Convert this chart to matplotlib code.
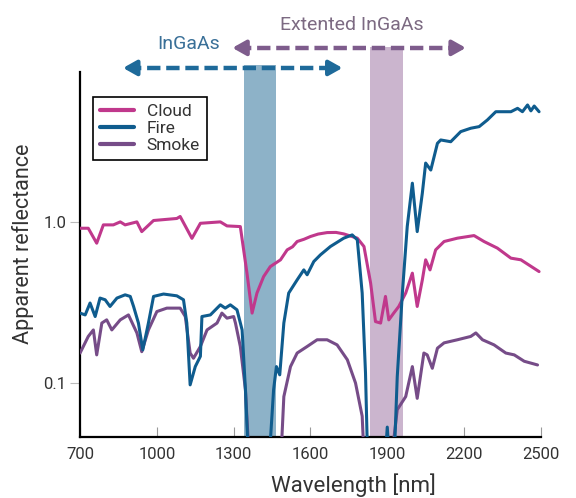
import matplotlib
matplotlib.use("Agg")
import matplotlib.pyplot as plt

plt.rcParams["font.family"] = ["Roboto", "DejaVu Sans"]

# Spectra (wavelength in nm, apparent reflectance)
cloud_nm = [700, 732, 765, 791, 830, 857, 876, 922, 941, 987, 1078, 1091, 1137, 1170,
            1248, 1274, 1326, 1352, 1372, 1391, 1417, 1443, 1483, 1509, 1530, 1548, 1575,
            1600, 1630, 1665, 1700, 1730, 1783, 1809, 1835, 1854, 1874, 1893, 1906, 1926,
            1945, 1972, 1998, 2017, 2037, 2050, 2067, 2089, 2122, 2174, 2239, 2278, 2330,
            2383, 2422, 2493]
cloud_r = [0.913, 0.913, 0.737, 0.958, 0.958, 1.00, 0.958, 1.00, 0.87, 1.02, 1.05, 1.08, 0.79, 0.98,
           1.00, 0.944, 0.935, 0.48, 0.271, 0.361, 0.457, 0.527, 0.581, 0.67, 0.70, 0.755, 0.78,
           0.811, 0.84, 0.858, 0.86, 0.842, 0.792, 0.703, 0.416, 0.240, 0.235, 0.344, 0.246, 0.272,
           0.298, 0.361, 0.48, 0.298, 0.436, 0.581, 0.503, 0.67, 0.755, 0.792, 0.822, 0.755, 0.687,
           0.595, 0.581, 0.491]

fire_nm = [700, 720, 739, 759, 778, 798, 817, 844, 876, 896, 909, 928, 945, 967, 987, 1026,
           1078, 1104, 1117, 1130, 1150, 1170, 1176, 1209, 1248, 1267, 1287, 1313, 1333, 1346,
           1359, 1437, 1456, 1467, 1480, 1496, 1515, 1548, 1574, 1587, 1613, 1639, 1678, 1730,
           1763, 1783, 1802, 1815, 1824, 1890, 1900, 1910, 1926, 1939, 1959, 1978, 1998, 2017,
           2037, 2050, 2070, 2096, 2109, 2148, 2187, 2226, 2259, 2291, 2324, 2383, 2409, 2428,
           2448, 2461, 2474, 2493]
fire_r = [0.271, 0.264, 0.313, 0.258, 0.336, 0.328, 0.298, 0.336, 0.352, 0.344, 0.298, 0.235, 0.160,
          0.235, 0.344, 0.356, 0.347, 0.328, 0.235, 0.097, 0.126, 0.146, 0.258, 0.264, 0.305, 0.291,
          0.305, 0.284, 0.213, 0.0905, 0.03, 0.03, 0.0905, 0.126, 0.112, 0.235, 0.361, 0.436, 0.503,
          0.469, 0.567, 0.624, 0.703, 0.792, 0.83, 0.773, 0.361, 0.115, 0.03, 0.03, 0.053, 0.03, 0.03,
          0.109, 0.361, 0.935, 1.74, 0.87, 1.51, 2.32, 2.10, 3.08, 3.23, 3.15, 3.64, 3.82, 3.91, 4.30,
          4.84, 4.84, 5.08, 4.84, 5.33, 4.9, 5.25, 4.84]

smoke_nm = [700, 732, 752, 765, 785, 804, 824, 857, 889, 922, 941, 967, 1000, 1039, 1091, 1111,
            1130, 1143, 1170, 1196, 1235, 1254, 1274, 1300, 1307, 1326, 1346, 1362, 1483, 1496,
            1522, 1548, 1587, 1626, 1665, 1704, 1744, 1776, 1802, 1811, 1913, 1939, 1972, 1998,
            2017, 2043, 2056, 2076, 2096, 2122, 2174, 2226, 2246, 2272, 2317, 2363, 2396, 2435, 2487]
smoke_r = [0.153, 0.194, 0.213, 0.149, 0.235, 0.246, 0.213, 0.246, 0.264, 0.204, 0.156, 0.213, 0.277,
           0.291, 0.291, 0.258, 0.153, 0.142, 0.168, 0.213, 0.235, 0.271, 0.252, 0.258, 0.235, 0.168,
           0.0905, 0.03, 0.03, 0.082, 0.126, 0.153, 0.168, 0.185, 0.185, 0.172, 0.139, 0.0996, 0.062,
           0.03, 0.03, 0.068, 0.082, 0.126, 0.080, 0.153, 0.149, 0.123, 0.164, 0.177, 0.185, 0.194,
           0.204, 0.185, 0.172, 0.153, 0.149, 0.136, 0.129]

# Detector bands (nm)
ingaas_band = (1342, 1467)
ext_band = (1831, 1963)
ingaas_range = (868, 1725)
ext_range = (1295, 2207)

x_ticks = [700, 1000, 1300, 1600, 1900, 2200, 2500]
y_ticks = [0.1, 1.0]
y_labels = ["0.1", "1.0"]

c_cloud = "#c0388c"
c_fire = "#0f5c8e"
c_smoke = "#764c88"
c_blue = "#1e6a9a"
c_purple = "#7e5c8c"

fig = plt.figure(figsize=(5.76, 4.98), dpi=100)
ax = fig.add_axes([0.139, 0.1225, 0.8, 0.733])

ax.set_yscale("log")
ax.set_xlim(700, 2500)
ax.set_ylim(0.046, 8.55)

# Shaded bands, reaching up to the arrows above the axes
ax.axvspan(*ingaas_band, ymin=0, ymax=1.019, color="#8db2c8", lw=0, clip_on=False, zorder=1)
ax.axvspan(*ext_band, ymin=0, ymax=1.068, color="#cbb5ce", lw=0, clip_on=False, zorder=1)

style = dict(lw=2.2, solid_joinstyle="round", solid_capstyle="round")
ax.plot(cloud_nm, cloud_r, color=c_cloud, label="Cloud", zorder=3, **style)
ax.plot(fire_nm, fire_r, color=c_fire, label="Fire", zorder=4, **style)
ax.plot(smoke_nm, smoke_r, color=c_smoke, label="Smoke", zorder=3, **style)

# Dashed double arrows for the detector ranges
trans = ax.get_xaxis_transform()
for (x0, x1), yy, col in [(ingaas_range, 1.011, c_blue), (ext_range, 1.066, c_purple)]:
    ax.plot([x0 + 20, x1 - 20], [yy, yy], transform=trans, color=col, lw=3.2,
            dashes=(3, 1.3), clip_on=False, solid_capstyle="butt")
    for tip, tail in [(x0, x0 + 45), (x1, x1 - 45)]:
        ax.annotate("", xy=(tip, yy), xytext=(tail, yy), xycoords=trans, textcoords=trans,
                    arrowprops=dict(arrowstyle="-|>,head_length=0.8,head_width=0.45",
                                    color=col, lw=3, shrinkA=0, shrinkB=0))

ax.text(1123, 1.077, "InGaAs", transform=trans, ha="center", va="center",
        fontsize=14, color="#3a7098")
ax.text(1760, 1.13, "Extented InGaAs", transform=trans, ha="center", va="center",
        fontsize=14, color="#7c6a82")

ax.set_xticks(x_ticks)
ax.set_yticks(y_ticks)
ax.set_yticklabels(y_labels)
ax.minorticks_off()
ax.tick_params(axis="x", direction="in", length=7, color="#999999", pad=7,
               labelsize=12, labelcolor="#333333")
ax.tick_params(axis="y", direction="out", length=7, color="#bbbbbb", pad=3,
               labelsize=12, labelcolor="#333333")

for side in ["top", "right"]:
    ax.spines[side].set_visible(False)
for side in ["left", "bottom"]:
    ax.spines[side].set_linewidth(1.6)

ax.set_xlabel("Wavelength [nm]", fontsize=16, color="#333333")
ax.xaxis.set_label_coords(0.594, -0.1)
ax.set_ylabel("Apparent reflectance", fontsize=15.5, color="#333333")
ax.yaxis.set_label_coords(-0.1, 0.53)

leg = ax.legend(loc="upper left", bbox_to_anchor=(0.0275, 0.932), borderaxespad=0,
                fancybox=False, edgecolor="black", fontsize=12.5, handlelength=2.0,
                handletextpad=0.7, labelspacing=0.1, borderpad=0.4, framealpha=1)
leg.get_frame().set_linewidth(1.2)
for line in leg.get_lines():
    line.set_linewidth(3)
for t in leg.get_texts():
    t.set_color("#333333")

fig.savefig("out.png", dpi=100)
